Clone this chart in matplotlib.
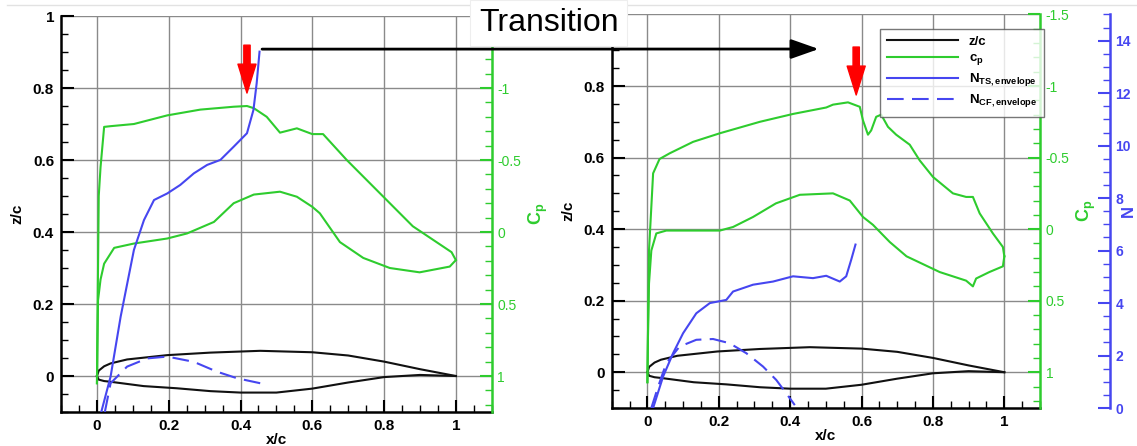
import matplotlib
matplotlib.use("Agg")
import matplotlib.pyplot as plt
from matplotlib.ticker import MultipleLocator
from matplotlib.patches import ConnectionPatch
from matplotlib.lines import Line2D

plt.rcParams["font.family"] = ["Liberation Sans", "DejaVu Sans"]
plt.rcParams["mathtext.fontset"] = "custom"
plt.rcParams["mathtext.rm"] = "Liberation Sans"
plt.rcParams["mathtext.bf"] = "Liberation Sans:bold"

GREEN = "#2ecc2e"
BLUE = "#4646f0"
BLACK = "#111111"
DASH = (0, (8, 4))

# ── data ──────────────────────────────────────────────────────────────────────
# airfoil contour (same wing in both panels)
af_up_x = [0.0, 0.005, 0.02, 0.038, 0.084, 0.196, 0.316, 0.455, 0.6, 0.7, 0.8, 0.9, 1.0]
af_up_z = [0.0, 0.015, 0.027, 0.035, 0.046, 0.058, 0.065, 0.070, 0.066, 0.057, 0.040, 0.019, 0.0]
af_lo_x = [0.0, 0.005, 0.02, 0.038, 0.13, 0.222, 0.316, 0.4, 0.5, 0.6, 0.7, 0.8, 0.9, 1.0]
af_lo_z = [0.0, -0.010, -0.014, -0.016, -0.028, -0.034, -0.042, -0.046, -0.046, -0.035, -0.018, -0.003, 0.003, 0.0]

# left panel: cp upper / lower surface
lu_x = [0.0, 0.002, 0.005, 0.01, 0.02, 0.038, 0.103, 0.196, 0.288, 0.381, 0.418, 0.437,
        0.473, 0.51, 0.557, 0.60, 0.63, 0.696, 0.788, 0.88, 0.946, 0.988, 1.0]
lu_cp = [1.05, 0.50, -0.25, -0.45, -0.73, -0.735, -0.75, -0.81, -0.85, -0.87, -0.875, -0.86,
         -0.80, -0.69, -0.72, -0.68, -0.68, -0.50, -0.27, -0.04, 0.07, 0.14, 0.195]
ll_x = [0.0, 0.001, 0.003, 0.01, 0.02, 0.048, 0.103, 0.196, 0.251, 0.326, 0.381, 0.437,
        0.51, 0.557, 0.60, 0.621, 0.677, 0.742, 0.816, 0.899, 0.983, 1.0]
ll_cp = [1.05, 0.825, 0.475, 0.33, 0.22, 0.11, 0.08, 0.045, 0.01, -0.07, -0.20, -0.26,
         -0.28, -0.245, -0.175, -0.13, 0.07, 0.18, 0.25, 0.28, 0.24, 0.195]
# left panel: N factors
lts_x = [0.012, 0.038, 0.066, 0.103, 0.131, 0.159, 0.196, 0.232, 0.27, 0.307, 0.344,
         0.381, 0.418, 0.436, 0.445, 0.453]
lts_n = [0.0, 1.34, 3.61, 6.14, 7.27, 8.03, 8.28, 8.6, 9.04, 9.36, 9.55,
         10.05, 10.56, 11.44, 12.45, 13.65]
lcf_x = [0.022, 0.038, 0.084, 0.14, 0.196, 0.27, 0.334, 0.39, 0.455]
lcf_n = [0.0, 1.09, 1.72, 2.03, 2.1, 1.9, 1.53, 1.28, 1.09]

# right panel: cp upper / lower surface
ru_x = [0.0, 0.0045, 0.016, 0.034, 0.0625, 0.128, 0.203, 0.315, 0.408, 0.501, 0.52, 0.562,
        0.595, 0.604, 0.618, 0.627, 0.641, 0.655, 0.674, 0.697, 0.735, 0.763, 0.80, 0.856,
        0.893, 0.912, 0.931, 0.968, 0.996, 1.0]
ru_cp = [1.07, 0.15, -0.39, -0.49, -0.53, -0.61, -0.67, -0.75, -0.805, -0.85, -0.87, -0.886,
         -0.855, -0.76, -0.66, -0.69, -0.785, -0.80, -0.715, -0.66, -0.59, -0.48, -0.365, -0.25,
         -0.225, -0.225, -0.11, 0.03, 0.125, 0.19]
rl_x = [0.0, 0.002, 0.0045, 0.011, 0.025, 0.053, 0.128, 0.203, 0.24, 0.296, 0.36, 0.427,
        0.52, 0.567, 0.604, 0.632, 0.679, 0.726, 0.819, 0.893, 0.912, 0.921, 0.958, 0.996, 1.0]
rl_cp = [1.07, 0.67, 0.38, 0.15, 0.03, 0.01, 0.01, 0.01, -0.015, -0.085, -0.18, -0.24,
         -0.25, -0.20, -0.085, -0.03, 0.09, 0.19, 0.30, 0.36, 0.40, 0.345, 0.30, 0.26, 0.19]
# right panel: N factors
rts_x = [0.016, 0.044, 0.072, 0.10, 0.137, 0.175, 0.221, 0.24, 0.296, 0.352, 0.408, 0.464,
         0.501, 0.539, 0.557, 0.571, 0.583]
rts_n = [0.0, 1.2, 2.09, 2.85, 3.61, 4.0, 4.12, 4.44, 4.7, 4.82, 5.02, 4.95,
         5.04, 4.82, 5.02, 5.65, 6.23]
rcf_x = [0.011, 0.03, 0.053, 0.09, 0.137, 0.184, 0.23, 0.277, 0.324, 0.361, 0.389, 0.413]
rcf_n = [0.0, 0.81, 1.71, 2.34, 2.6, 2.63, 2.47, 2.09, 1.58, 1.07, 0.56, 0.11]

# transition locations (red arrows), x/c
trans_left = 0.418
trans_right = 0.585

# axis ticks ("Transition" box hides the top-most labels)
x_ticks = [0, 0.2, 0.4, 0.6, 0.8, 1.0]
x_labels = ["0", "0.2", "0.4", "0.6", "0.8", "1"]
z_ticks = [0, 0.2, 0.4, 0.6, 0.8, 1.0]
z_labels_l = ["0", "0.2", "0.4", "0.6", "0.8", "1"]
z_labels_r = ["0", "0.2", "0.4", "0.6", "0.8", ""]
cp_ticks = [-1.5, -1.0, -0.5, 0.0, 0.5, 1.0]
cp_labels_l = ["", "-1", "-0.5", "0", "0.5", "1"]
cp_labels_r = ["-1.5", "-1", "-0.5", "0", "0.5", "1"]
n_ticks = [0, 2, 4, 6, 8, 10, 12, 14]


fig = plt.figure(figsize=(11.37, 4.46), dpi=100)
ax_l = fig.add_axes([0.0537, 0.0762, 0.3788, 0.8879])
ax_r = fig.add_axes([0.5380, 0.0852, 0.3767, 0.8823])


def setup_panel(ax, z_labels, cp_labels):
    ax.set_xlim(-0.1, 1.1)
    ax.set_ylim(-0.1, 1.0)
    ax.set_xticks(x_ticks)
    ax.set_xticklabels(x_labels, fontsize=11, fontweight="bold")
    ax.set_yticks(z_ticks)
    ax.set_yticklabels(z_labels, fontsize=11, fontweight="bold")
    ax.xaxis.set_minor_locator(MultipleLocator(0.05))
    ax.yaxis.set_minor_locator(MultipleLocator(0.05))
    ax.tick_params(which="major", direction="in", length=9, width=1.5, pad=5)
    ax.tick_params(which="minor", direction="in", length=5, width=1)
    for side in ("top", "right"):
        ax.spines[side].set_visible(False)
    for side in ("left", "bottom"):
        ax.spines[side].set_linewidth(1.8)
    ax.grid(True, which="major", color="#8a8a8a", linewidth=1)
    ax.set_xlabel("x/c", fontsize=11, fontweight="bold", labelpad=0)
    ax.set_ylabel("z/c", fontsize=11, fontweight="bold", labelpad=6)
    ax.plot(af_up_x, af_up_z, color=BLACK, lw=1.5)
    ax.plot(af_lo_x, af_lo_z, color=BLACK, lw=1.5)

    cp = ax.twinx()
    cp.set_ylim(1.25, -1.5)
    cp.set_yticks(cp_ticks)
    cp.set_yticklabels(cp_labels, fontsize=10, color=GREEN)
    cp.yaxis.set_minor_locator(MultipleLocator(0.1))
    cp.tick_params(which="major", direction="in", length=9, width=1.5, color=GREEN, pad=4)
    cp.tick_params(which="minor", direction="in", length=5, width=1, color=GREEN)
    for side in ("top", "left", "bottom"):
        cp.spines[side].set_visible(False)
    cp.spines["right"].set_color(GREEN)
    cp.spines["right"].set_linewidth(1.8)
    cp.set_ylabel(r"C$_\mathregular{p}$", fontsize=13, fontweight="bold",
                  color=GREEN, rotation=90, labelpad=4)

    nax = ax.twinx()
    nax.set_ylim(0, 15)
    return cp, nax


cp_l, n_l = setup_panel(ax_l, z_labels_l, cp_labels_l)
cp_r, n_r = setup_panel(ax_r, z_labels_r, cp_labels_r)

# left panel curves
cp_l.plot(lu_x, lu_cp, color=GREEN, lw=1.5)
cp_l.plot(ll_x, ll_cp, color=GREEN, lw=1.5)
n_l.plot(lts_x, lts_n, color=BLUE, lw=1.5)
n_l.plot(lcf_x, lcf_n, color=BLUE, lw=1.5, ls=DASH)
n_l.axis("off")

# right panel curves
cp_r.plot(ru_x, ru_cp, color=GREEN, lw=1.5)
cp_r.plot(rl_x, rl_cp, color=GREEN, lw=1.5)
n_r.plot(rts_x, rts_n, color=BLUE, lw=1.5)
n_r.plot(rcf_x, rcf_n, color=BLUE, lw=1.5, ls=DASH)
for side in ("top", "left", "bottom"):
    n_r.spines[side].set_visible(False)
n_r.spines["right"].set_position(("axes", 1.1634))
n_r.spines["right"].set_color(BLUE)
n_r.spines["right"].set_linewidth(1.8)
n_r.set_yticks(n_ticks)
n_r.set_yticklabels([str(t) for t in n_ticks], fontsize=10, fontweight="bold", color=BLUE)
n_r.yaxis.set_minor_locator(MultipleLocator(0.5))
n_r.tick_params(which="major", direction="in", length=9, width=1.5, color=BLUE, pad=4)
n_r.tick_params(which="minor", direction="in", length=5, width=1, color=BLUE)
n_r.set_ylabel("N", fontsize=12, fontweight="bold", color=BLUE, labelpad=-7)

# red transition arrows
for ax, xt, z0, z1 in ((ax_l, trans_left, 0.919, 0.786), (ax_r, trans_right, 0.909, 0.775)):
    ax.annotate("", xy=(xt, z1), xytext=(xt, z0),
                arrowprops=dict(arrowstyle="simple,head_length=1.6,head_width=1.0,tail_width=0.35",
                                color="red", shrinkA=0, shrinkB=0, mutation_scale=13),
                zorder=6)

# black "Transition" arrow from left panel to right panel
con = ConnectionPatch(xyA=(0.46, 0.908), coordsA=ax_l.transData,
                      xyB=(0.48, 0.9035), coordsB=ax_r.transData,
                      arrowstyle="-|>,head_length=0.85,head_width=0.3",
                      mutation_scale=20, lw=2, color="black", zorder=8)
fig.add_artist(con)

fig.add_artist(Line2D([0.006, 1.0], [0.988, 0.988], transform=fig.transFigure,
                      color="#e2e2e2", lw=1, zorder=1))
fig.text(0.4825, 0.948, "Transition", fontsize=23, ha="center", va="center", zorder=9,
         bbox=dict(facecolor="white", edgecolor="#eeeeee", pad=6, lw=0.8))

# legend
handles = [
    Line2D([], [], color=BLACK, lw=1.5),
    Line2D([], [], color=GREEN, lw=1.5),
    Line2D([], [], color=BLUE, lw=1.5),
    Line2D([], [], color=BLUE, lw=1.5, ls=DASH),
]
labels = ["z/c", r"c$_\mathregular{p}$",
          r"N$_\mathregular{TS,envelope}$", r"N$_\mathregular{CF,envelope}$"]
leg = n_r.legend(handles, labels, loc="upper left", bbox_to_anchor=(0.7678, 0.9507),
                 bbox_transform=fig.transFigure, frameon=True, fancybox=False,
                 handlelength=5.4, labelspacing=0.3, borderpad=0.55, handletextpad=0.8,
                 prop={"weight": "bold", "size": 9.5})
leg.get_frame().set_edgecolor("#555555")
leg.get_frame().set_linewidth(1)

fig.savefig("out.png", dpi=100)
